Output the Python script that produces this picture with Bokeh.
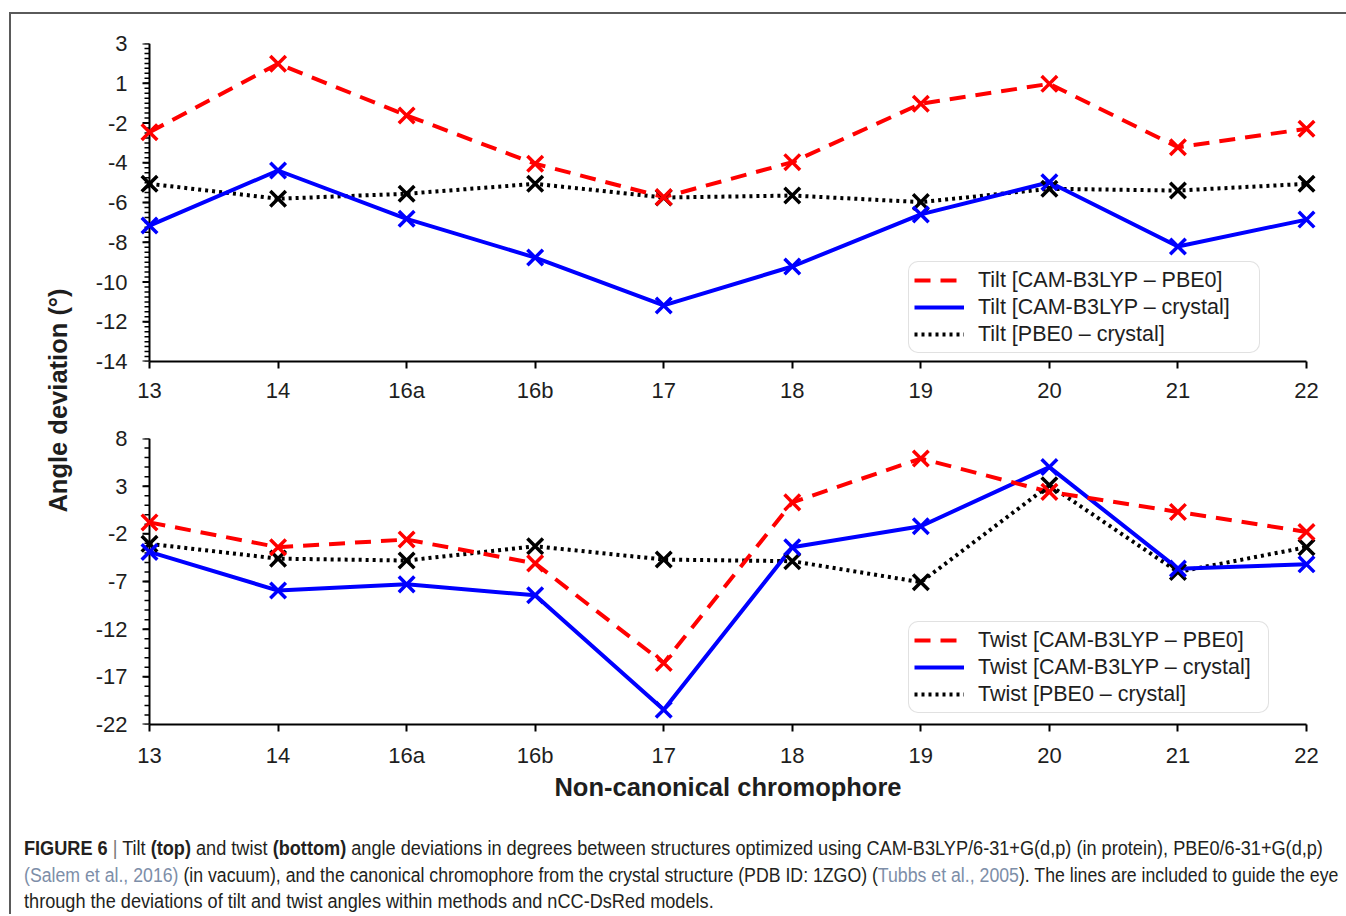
import numpy as np
from bokeh.plotting import figure
from bokeh.models import Range1d, FixedTicker, Legend, LegendItem, Div
from bokeh.layouts import row, column
from bokeh.embed import file_html
from bokeh.resources import INLINE
from bokeh.core.properties import value

# ---------------- data ----------------
categories = ["13", "14", "16a", "16b", "17", "18", "19", "20", "21", "22"]

tilt_cam_pbe0 = [-2.46, 0.98, -1.62, -4.05, -5.73, -3.97, -1.03, -0.03, -3.22, -2.29]
tilt_cam_crystal = [-7.16, -4.39, -6.82, -8.77, -11.18, -9.22, -6.6, -4.98, -8.21, -6.86]
tilt_pbe0_crystal = [-5.06, -5.81, -5.56, -5.06, -5.75, -5.65, -5.98, -5.31, -5.4, -5.06]

twist_cam_pbe0 = [-0.8, -3.4, -2.6, -5.1, -15.55, 1.3, 5.9, 2.4, 0.3, -1.8]
twist_cam_crystal = [-3.9, -7.95, -7.3, -8.45, -20.45, -3.4, -1.2, 5.0, -5.65, -5.2]
twist_pbe0_crystal = [-3.05, -4.6, -4.8, -3.3, -4.7, -4.87, -7.07, 3.1, -6.0, -3.4]

tilt_ticks = [-14, -12, -10, -8, -6, -4, -2, 0, 2]
tilt_tick_labels = ["-14", "-12", "-10", "-8", "-6", "-4", "-2", "1", "3"]
twist_ticks = [-22, -17, -12, -7, -2, 3, 8]
twist_tick_labels = ["-22", "-17", "-12", "-7", "-2", "3", "8"]

tilt_names = ["Tilt [CAM-B3LYP \u2013 PBE0]", "Tilt [CAM-B3LYP \u2013 crystal]", "Tilt [PBE0 \u2013 crystal]"]
twist_names = ["Twist [CAM-B3LYP \u2013 PBE0]", "Twist [CAM-B3LYP \u2013 crystal]", "Twist [PBE0 \u2013 crystal]"]

y_title = "Angle deviation (\u00b0)"
x_title = "Non-canonical chromophore"

# ---------------- styling ----------------
FONT = "Liberation Sans"
BORDER = "#5a5a5a"
TXT = "#1e1e1e"
RED, BLUE, BLACK = "#ff0000", "#0000ff", "#000000"
xs = list(range(len(categories)))


def base_fig(height, ymin, ymax, mb_top, mb_bottom, ticks, labels, minor):
    p = figure(width=1271, height=height,
               x_range=Range1d(-0.14, len(categories) - 1 + 0.14),
               y_range=Range1d(ymin, ymax),
               toolbar_location=None, output_backend="svg",
               min_border_left=56, min_border_right=22,
               min_border_top=mb_top, min_border_bottom=mb_bottom)
    p.grid.visible = False
    p.outline_line_color = None
    p.background_fill_color = "white"
    p.border_fill_color = "white"
    # x axis
    xa = p.xaxis[0]
    xa.ticker = FixedTicker(ticks=xs, minor_ticks=[])
    xa.major_label_overrides = {i: c for i, c in enumerate(categories)}
    xa.bounds = (0, len(categories) - 1)
    xa.axis_line_width = 2
    xa.axis_line_color = "black"
    xa.major_tick_line_width = 2
    xa.major_tick_in = 0
    xa.major_tick_out = 7
    xa.major_label_text_font = FONT
    xa.major_label_text_font_size = "22px"
    xa.major_label_text_color = TXT
    # y axis: labels from Bokeh's axis, line and ticks drawn at x = first category
    ya = p.yaxis[0]
    ya.ticker = FixedTicker(ticks=ticks, minor_ticks=minor)
    ya.major_label_overrides = {t: l for t, l in zip(ticks, labels)}
    ya.axis_line_color = None
    ya.major_tick_line_color = None
    ya.minor_tick_line_color = None
    ya.major_tick_in = 0
    ya.major_tick_out = 0
    ya.minor_tick_in = 0
    ya.minor_tick_out = 0
    ya.major_label_text_font = FONT
    ya.major_label_text_font_size = "22px"
    ya.major_label_text_color = TXT
    ya.major_label_standoff = 4
    p.segment(x0=[xs[0]], y0=[ymin], x1=[xs[0]], y1=[ymax], line_color="black", line_width=2)
    p.ray(x=[xs[0]] * len(minor), y=minor, length=5, length_units="screen",
          angle=np.pi, line_color="black", line_width=1.5)
    p.ray(x=[xs[0]] * len(ticks), y=ticks, length=7, length_units="screen",
          angle=np.pi, line_color="black", line_width=2)
    return p


def draw(p, series, names, loc, label_width):
    specs = [(RED, "16 10"), (BLUE, "solid"), (BLACK, "3 4")]
    order = [2, 1, 0]
    rend = {}
    for i in order:
        col, dash = specs[i]
        rend[i] = p.line(xs, series[i], line_color=col, line_width=4, line_dash=dash)
    for i in order:
        col, dash = specs[i]
        p.scatter(xs, series[i], marker="x", size=22, line_color=col, line_width=3.5)
    items = [LegendItem(label=names[i], renderers=[rend[i]]) for i in range(3)]
    leg = Legend(items=items, location=loc, margin=0, padding=5, spacing=1,
                 label_height=26, glyph_height=26, glyph_width=50,
                 label_standoff=14, label_width=label_width,
                 label_text_font=FONT, label_text_font_size="21.5px",
                 label_text_color=TXT,
                 border_line_color="#c4c4c4", border_line_width=1.5,
                 background_fill_color="white", background_fill_alpha=1)
    try:
        leg.border_radius = 10
    except Exception:
        pass
    p.add_layout(leg)


# top chart (tilt)
p1 = base_fig(404, -14, 2, 29, 57, tilt_ticks, tilt_tick_labels,
              [float(v) for v in np.arange(-14, 2.01, 0.25)])
p1.xaxis[0].major_label_standoff = 9
draw(p1, [tilt_cam_pbe0, tilt_cam_crystal, tilt_pbe0_crystal], tilt_names, (777, 8), 276)

# bottom chart (twist)
p2 = base_fig(392, -22, 8, 20, 86, twist_ticks, twist_tick_labels, list(range(-22, 9)))
p2.xaxis[0].major_label_standoff = 11
p2.xaxis[0].axis_label = x_title
p2.xaxis[0].axis_label_text_font = FONT
p2.xaxis[0].axis_label_text_font_style = "bold"
p2.xaxis[0].axis_label_text_font_size = "25.5px"
p2.xaxis[0].axis_label_text_color = TXT
p2.xaxis[0].axis_label_standoff = 2
draw(p2, [twist_cam_pbe0, twist_cam_crystal, twist_pbe0_crystal], twist_names, (777, 11), 285)

# shared y title
lab = figure(width=64, height=796, x_range=Range1d(0, 64), y_range=Range1d(0, 796),
             toolbar_location=None, output_backend="svg", min_border=0)
lab.axis.visible = False
lab.grid.visible = False
lab.outline_line_color = None
lab.text(x=[46], y=[410], text=[y_title], angle=np.pi / 2,
         text_align="center", text_baseline="middle",
         text_font=value(FONT), text_font_style="bold", text_font_size="25.5px",
         text_color=TXT)

# caption
ref = "color:#7d8ea8"


def cap_line(html, sx):
    return (f'<div style="transform:scaleX({sx}); transform-origin:0 0; white-space:nowrap;'
            f' height:26.5px; line-height:26.5px;">{html}</div>')


caption_html = (
    '<div style="padding:25px 0 0 13px; font-family:\'Liberation Sans\', sans-serif;'
    ' font-size:20px; color:#231f20;">'
    + cap_line('<b>FIGURE 6</b> <span style="color:#777">|</span> Tilt <b>(top)</b> and twist '
               '<b>(bottom)</b> angle deviations in degrees between structures optimized using '
               'CAM-B3LYP/6-31+G(d,p) (in protein), PBE0/6-31+G(d,p)', 0.907)
    + cap_line(f'<span style="{ref}">(Salem et al., 2016)</span> (in vacuum), and the canonical '
               'chromophore from the crystal structure (PDB ID: 1ZGO) '
               f'(<span style="{ref}">Tubbs et al., 2005</span>). The lines are included to guide the eye',
               0.885)
    + cap_line('through the deviations of tilt and twist angles within methods and nCC-DsRed models.', 0.907)
    + '</div>'
)
caption = Div(text=caption_html, width=1335, height=104, margin=0)


def blank(w, h):
    return Div(text="", width=w, height=h, margin=0)


def bar(w, h):
    return Div(text="", width=w, height=h, margin=0, styles={"background-color": BORDER})


charts = row(lab, column(p1, p2))
inner = column(charts, caption)
body = row(bar(2, 900), inner)
root = row(blank(9, 914), column(blank(1337, 12), bar(1337, 2), body))

with open("out.html", "w") as f:
    f.write(file_html(root, INLINE))
